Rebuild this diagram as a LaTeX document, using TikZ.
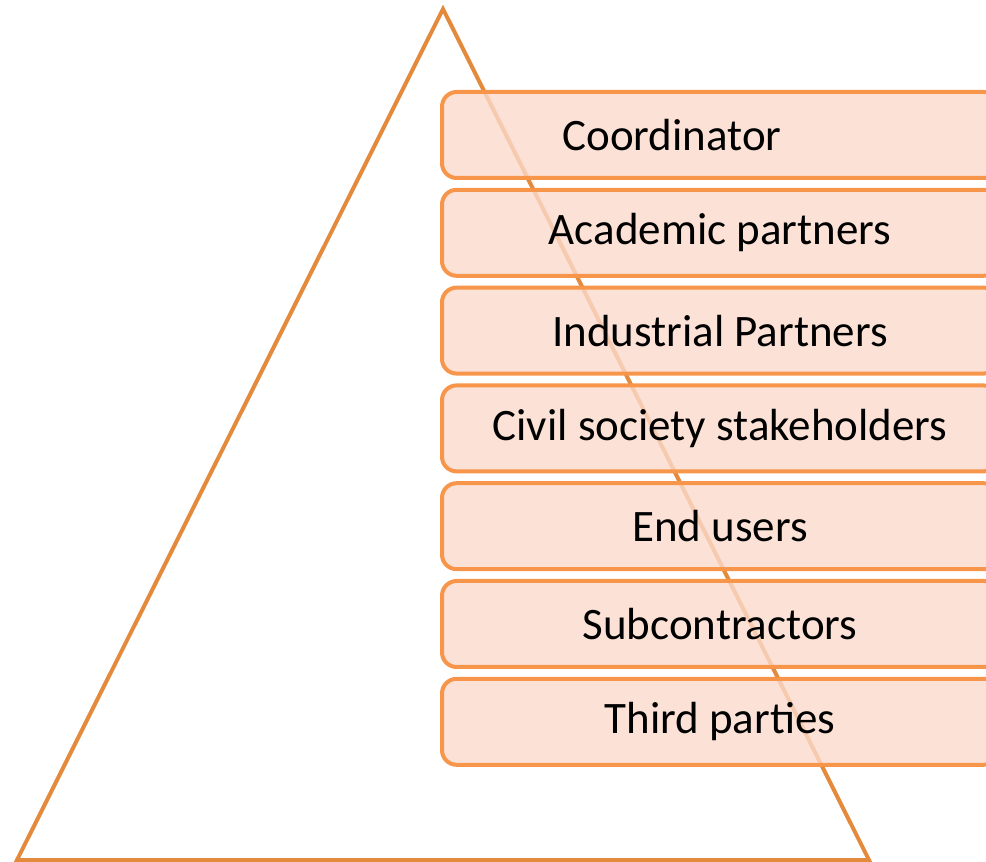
\documentclass[tikz,border=0pt]{standalone}
\usepackage{fontspec}
\setmainfont{Carlito}
\definecolor{trianglecolor}{HTML}{E48A3C}
\definecolor{boxline}{HTML}{F7964A}
\definecolor{boxfill}{HTML}{FBDACC}
\tikzset{
  partbox/.style={draw=boxline, line width=3pt, fill=boxfill, fill opacity=0.8,
    text opacity=1, rounded corners=11pt, minimum width=417pt, minimum height=64.5pt,
    inner sep=0pt, font=\fontsize{33.75}{40}\selectfont}
}

\begin{document}
\begin{tikzpicture}[x=0.75pt, y=-0.75pt]
  \useasboundingbox (0,0) rectangle (986,862);

  % Triangle
  \coordinate (apex) at (443,9);
  \coordinate (left) at (17,860);
  \coordinate (right) at (869,860);
  \draw [trianglecolor, line width=3pt, line join=miter] (apex) -- (right) -- (left) -- cycle;

  % Boxes
  \node [partbox] (coordinator) at (720,135) {Coordinator\hbox to 72pt{}};
  \node [partbox] (academic) at (720,232.8) {Academic partners};
  \node [partbox] (industrial) at (720,330.6) {Industrial Partners};
  \node [partbox] (civil) at (720,428.4) {Civil society stakeholders};
  \node [partbox] (endusers) at (720,526.2) {End users};
  \node [partbox] (subcontractors) at (720,624) {Subcontractors};
  \node [partbox] (thirdparties) at (720,721.8) {Third parties};

\end{tikzpicture}
\end{document}
